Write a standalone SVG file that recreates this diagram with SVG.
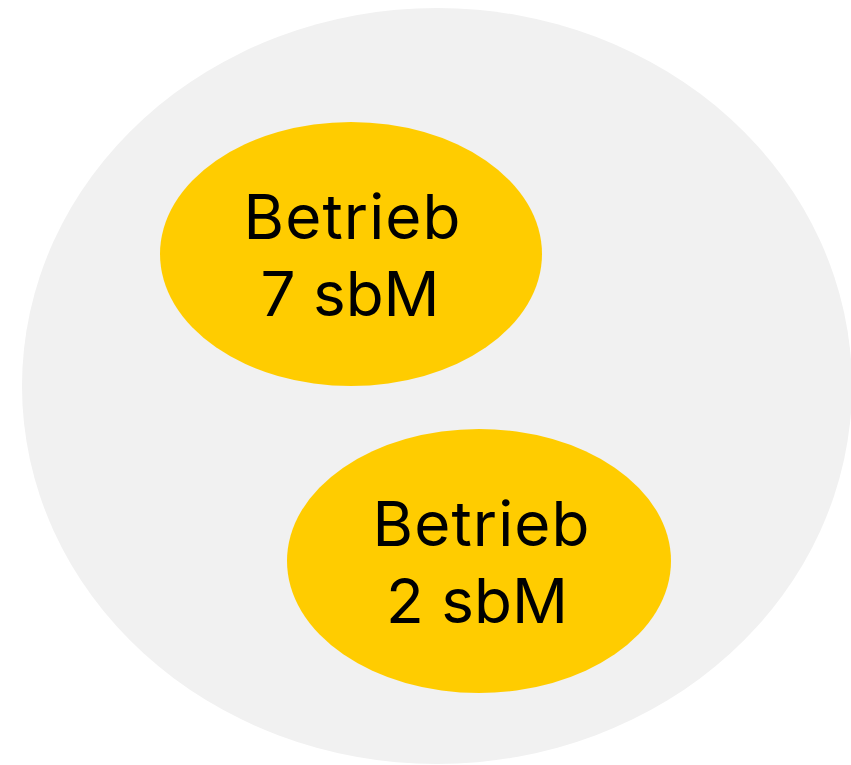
<svg xmlns="http://www.w3.org/2000/svg" width="851" height="765" viewBox="0 0 851 765">
<style>
.bg{fill:#f1f1f1}
.node{fill:#ffcc00}
.lbl{font-family:Inter,"Noto Sans","Liberation Sans",sans-serif;font-size:62px;fill:#000;text-anchor:middle}
</style>
<rect width="851" height="765" fill="#ffffff"/>
<g id="outer"><ellipse class="bg" cx="437" cy="386" rx="415" ry="378"/></g>
<g id="connectors"></g>
<g id="node1">
<ellipse class="node" cx="351" cy="254" rx="191" ry="132"/>
<text class="lbl" x="352" y="239" textLength="217" lengthAdjust="spacing">Betrieb</text>
<text class="lbl" x="350" y="316">7 sbM</text>
</g>
<g id="node2">
<ellipse class="node" cx="479" cy="561" rx="192" ry="132"/>
<text class="lbl" x="481" y="546" textLength="217" lengthAdjust="spacing">Betrieb</text>
<text class="lbl" x="477" y="623">2 sbM</text>
</g>
</svg>
